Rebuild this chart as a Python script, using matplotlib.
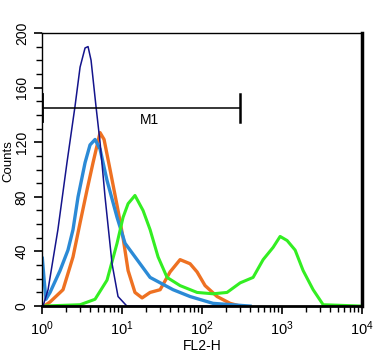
import matplotlib
matplotlib.use("Agg")
import matplotlib.pyplot as plt
from matplotlib.ticker import LogLocator, MultipleLocator

plt.rcParams["font.family"] = ["Liberation Sans", "DejaVu Sans"]

navy_x = [1.03, 1.19, 1.58, 2.05, 2.58, 2.99, 3.45, 3.76, 4.10, 4.73, 5.31, 6.13, 7.50, 8.91, 11.5, 299]
navy_y = [0, 12, 56, 105, 146, 175, 189, 190, 180, 146, 120, 80, 31, 7, 0, 0]

blue_x = [1.01, 1.06, 1.12, 1.26, 1.68, 2.11, 2.44, 2.82, 3.45, 3.98, 4.60, 5.31, 6.49, 8.66,
          10.9, 15.4, 22.4, 43.4, 70.8, 137, 398]
blue_y = [35, 20, 5, 10, 26, 41, 56, 80, 105, 118, 122, 115, 92, 65, 46, 34, 21, 12, 7, 2, 0]

orange_x = [1.06, 1.26, 1.83, 2.44, 2.99, 3.65, 4.34, 5.31, 5.96, 7.08, 8.91, 10.3, 11.9, 14.5,
            17.8, 22.4, 29.9, 39.8, 53.1, 70.8, 86.6, 109, 154, 224, 299]
orange_y = [0, 3, 12, 36, 61, 85, 105, 127, 122, 100, 70, 50, 26, 10, 6, 10, 12, 25, 34, 31,
            25, 15, 7, 2, 0]

green_x = [1.0, 2.99, 4.60, 6.49, 8.66, 10.3, 11.9, 14.5, 18.3, 22.4, 28.2, 36.5, 53.1, 86.6,
           137, 205, 299, 434, 579, 772, 944, 1155, 1454, 1830, 2440, 3255, 10000]
green_y = [0, 1, 5, 19, 46, 65, 75, 81, 70, 56, 36, 21, 15, 10, 9, 10, 17, 21, 34, 43, 51, 48,
           41, 26, 12, 1, 0]

gate_start = 1.0
gate_end = 300
gate_level = 145


def main() -> None:
    figure = plt.figure(figsize=(3.89, 3.58), dpi=100)
    axis = figure.add_axes([0.108, 0.145, 0.823, 0.763])

    axis.plot(orange_x, orange_y, color="#ee7122", linewidth=2.4)
    axis.plot(blue_x, blue_y, color="#2b8ad6", linewidth=2.4)
    axis.plot(green_x, green_y, color="#33ee22", linewidth=2.2)
    axis.plot(navy_x, navy_y, color="#14148c", linewidth=1.1)

    # M1 marker gate
    axis.plot([gate_start, gate_end], [gate_level, gate_level], color="black", linewidth=1.1)
    axis.plot([gate_start * 1.02, gate_start * 1.02], [135, 155], color="black", linewidth=1.3)
    axis.plot([gate_end, gate_end], [135, 155], color="black", linewidth=1.8)
    axis.text(22, 136, "M1", fontsize=10, ha="center", va="center")

    axis.set_xscale("log")
    axis.set_xlim(1, 1e4)
    axis.set_ylim(0, 200)
    axis.xaxis.set_major_locator(LogLocator(base=10))
    axis.xaxis.set_minor_locator(LogLocator(base=10, subs=range(2, 10)))
    axis.yaxis.set_major_locator(MultipleLocator(40))
    axis.yaxis.set_minor_locator(MultipleLocator(10))
    axis.tick_params(which="major", direction="out", length=6, width=1.2, labelsize=10)
    axis.tick_params(axis="x", which="major", labelsize=10.5)
    axis.tick_params(which="minor", direction="out", length=4, width=1.0)
    for label in axis.get_yticklabels():
        label.set_rotation(90)
        label.set_va("center")

    axis.spines["right"].set_linewidth(2.5)
    axis.spines["bottom"].set_linewidth(2.0)
    axis.spines["top"].set_linewidth(1.0)
    axis.spines["left"].set_linewidth(1.0)

    axis.set_xlabel("FL2-H", fontsize=10, labelpad=1)
    axis.set_ylabel("Counts", fontsize=9.5, va="center")
    axis.yaxis.set_label_coords(-0.105, 0.53)

    figure.savefig("out.png", dpi=100)
    plt.close(figure)


if __name__ == "__main__":
    main()
